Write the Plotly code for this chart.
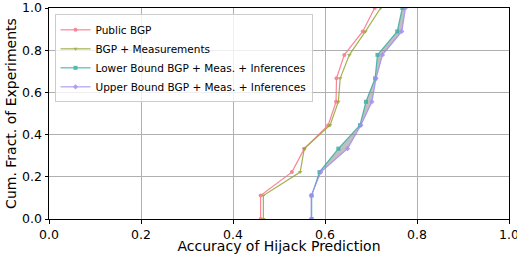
import plotly.graph_objects as go

y_levels = [0.0, 1/9, 2/9, 3/9, 4/9, 5/9, 6/9, 7/9, 8/9, 1.0]
public_bgp = [0.460, 0.460, 0.528, 0.555, 0.607, 0.624, 0.625, 0.642, 0.682, 0.708]
bgp_meas = [0.466, 0.466, 0.546, 0.555, 0.611, 0.629, 0.633, 0.653, 0.688, 0.721]
lower_bound = [0.571, 0.571, 0.588, 0.629, 0.676, 0.689, 0.709, 0.714, 0.757, 0.768]
upper_bound = [0.570, 0.570, 0.591, 0.649, 0.678, 0.702, 0.711, 0.725, 0.767, 0.775]
names = ["Public BGP", "BGP + Measurements",
         "Lower Bound BGP + Meas. + Inferences", "Upper Bound BGP + Meas. + Inferences"]
colors = ["#f77189", "#97a431", "#36ada4", "#a48cf4"]
symbols = ["circle", "triangle-down", "square", "diamond"]
ticks = [0.0, 0.2, 0.4, 0.6, 0.8, 1.0]
tick_text = ["0.0", "0.2", "0.4", "0.6", "0.8", "1.0"]

fig = go.Figure()
# shaded band between lower and upper bound
fig.add_trace(go.Scatter(
    x=lower_bound + upper_bound[::-1], y=y_levels + y_levels[::-1],
    fill="toself", fillcolor="rgba(128,128,128,0.5)", line=dict(width=0),
    mode="lines", showlegend=False, hoverinfo="skip"))
for xs, nm, c, s in zip([public_bgp, bgp_meas, lower_bound, upper_bound], names, colors, symbols):
    fig.add_trace(go.Scatter(
        x=xs, y=y_levels, name=nm, mode="lines+markers",
        line=dict(color=c, width=1.2), opacity=0.85,
        marker=dict(color=c, size=4, symbol=s)))

axis_common = dict(range=[0, 1], tickvals=ticks, ticktext=tick_text, showgrid=True,
                   gridcolor="#b0b0b0", gridwidth=1, showline=True, linecolor="black",
                   linewidth=1, mirror=True, ticks="outside", ticklen=3.5, tickcolor="black",
                   zeroline=False, automargin=False, ticklabeloverflow="allow",
                   tickfont=dict(size=12.5, color="black"))
fig.update_xaxes(**axis_common, title=dict(text="Accuracy of Hijack Prediction",
                                           font=dict(size=14, color="black"), standoff=1))
fig.update_yaxes(**axis_common, title=dict(text="Cum. Fract. of Experiments",
                                           font=dict(size=14, color="black"), standoff=2))
fig.update_layout(
    width=517, height=254, margin=dict(l=49, r=8, t=8, b=35),
    plot_bgcolor="white", paper_bgcolor="white",
    font=dict(family="DejaVu Sans", color="black"),
    legend=dict(x=0.012, y=0.97, xanchor="left", yanchor="top",
                bgcolor="rgba(255,255,255,0.8)", bordercolor="#cccccc", borderwidth=1,
                font=dict(size=10.5), tracegroupgap=0, itemwidth=30),
)
fig.write_html("out.html", config={"displayModeBar": False},
               post_script="document.body.style.margin='0';document.body.style.overflow='hidden';")
